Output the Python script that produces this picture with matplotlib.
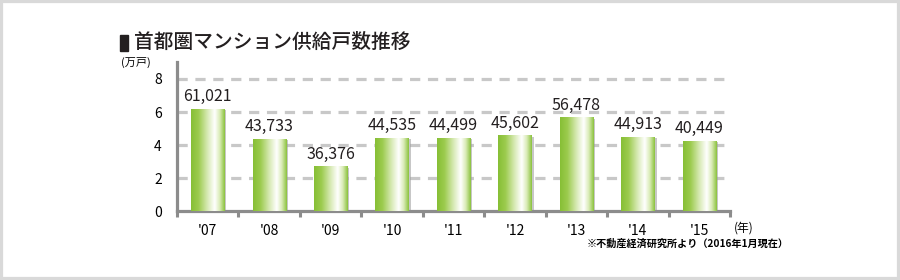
import numpy as np
import matplotlib.pyplot as plt
from matplotlib.colors import LinearSegmentedColormap
from matplotlib.patches import Rectangle

plt.rcParams['font.family'] = ['Noto Sans CJK JP', 'DejaVu Sans']

# data
years = ["'07", "'08", "'09", "'10", "'11", "'12", "'13", "'14", "'15"]
labels = ["61,021", "43,733", "36,376", "44,535", "44,499", "45,602", "56,478", "44,913", "40,449"]
heights = [6.17, 4.36, 2.68, 4.42, 4.42, 4.55, 5.64, 4.48, 4.24]   # 万戸, bar heights as drawn
yticks = [0, 2, 4, 6, 8]

title = "首都圏マンション供給戸数推移"
unit = "(万戸)"
xunit = "(年)"
note = "※不動産経済研究所より（2016年1月現在）"

green = LinearSegmentedColormap.from_list("bar", [
    (0.0, "#86bf35"), (0.22, "#9ccb4e"), (0.48, "#d6e9b2"),
    (0.7, "#ffffff"), (0.85, "#d9ebb6"), (1.0, "#8ac23c")])
grad = np.linspace(0, 1, 256).reshape(1, -1)

fig = plt.figure(figsize=(9, 2.8), dpi=100)
fig.patches.append(Rectangle((0, 0), 1, 1, transform=fig.transFigure,
                             fill=False, edgecolor="#d9d9d9", linewidth=4.5))

ax = fig.add_axes([0.1967, 0.2464, 0.6144, 0.5304])
x = np.arange(len(years))
w = 0.54
for xi, h, lab in zip(x, heights, labels):
    ax.add_patch(Rectangle((xi - w / 2 + 0.035, 0), w, h - 0.06,
                           color="#9a9a9a", alpha=0.55, zorder=2.5, linewidth=0))
    ax.imshow(grad, extent=(xi - w / 2, xi + w / 2, 0, h), aspect="auto",
              cmap=green, zorder=3, interpolation="bilinear")
    ax.text(xi, h + 0.25, lab, ha="center", va="bottom", fontsize=11.5,
            color="#231f20", zorder=4)

ax.set_xlim(-0.5, len(years) - 0.5)
ax.set_ylim(0, 9)

for g in yticks[1:]:
    ax.axhline(g, color="#c8c8c8", linewidth=2.3, dashes=(3.2, 2.4), zorder=1)

ax.set_yticks(yticks)
ax.set_yticklabels([str(t) for t in yticks], fontsize=10)
ax.set_xticks(x)
ax.set_xticklabels(years, fontsize=10)
ax.set_xticks(np.arange(-0.5, len(years), 1), minor=True)
ax.tick_params(axis="x", which="major", length=0, pad=9)
ax.tick_params(axis="x", which="minor", length=4, width=2.2, color="#8c8c8c")
ax.tick_params(axis="y", length=0, pad=11)

for s in ["top", "right"]:
    ax.spines[s].set_visible(False)
for s in ["left", "bottom"]:
    ax.spines[s].set_color("#8c8c8c")
    ax.spines[s].set_linewidth(2.3)

fig.patches.append(Rectangle((120 / 900, 1 - 51 / 280), 8 / 900, 16 / 280,
                             transform=fig.transFigure, color="#231f20"))
fig.text(134 / 900, 1 - 42 / 280, title, fontsize=14.2, va="center", ha="left",
         color="#231f20", fontweight="medium")
fig.text(121 / 900, 1 - 62 / 280, unit, fontsize=8, va="center", ha="left")
fig.text(734 / 900, 1 - 228 / 280, xunit, fontsize=8.5, va="center", ha="left")
fig.text(789 / 900, 1 - 244 / 280, note, fontsize=7.3, va="center", ha="right",
         fontweight="bold")

fig.savefig("out.png", dpi=100)
